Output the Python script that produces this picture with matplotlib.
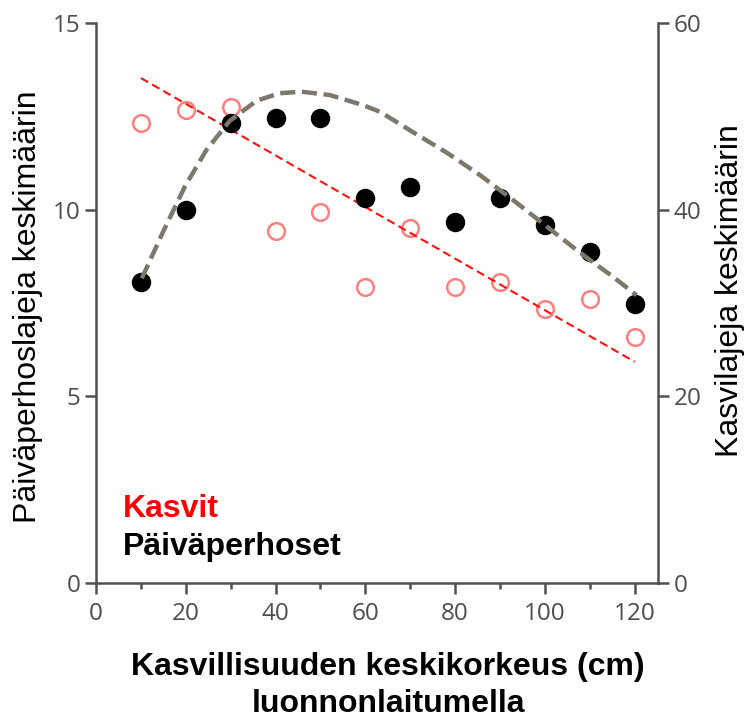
import matplotlib
matplotlib.use("Agg")
import matplotlib.pyplot as plt
from matplotlib.ticker import MultipleLocator

# kasvillisuuden keskikorkeus (cm)
heights = [10, 20, 30, 40, 50, 60, 70, 80, 90, 100, 110, 120]
# päiväperhoslajeja keskimäärin (vasen akseli)
butterflies = [8.06, 9.99, 12.32, 12.45, 12.45, 10.3, 10.6, 9.67, 10.3, 9.6, 8.87, 7.47]
# kasvilajeja keskimäärin (oikea akseli)
plants = [49.3, 50.7, 51.0, 37.7, 39.8, 31.7, 38.0, 31.7, 32.3, 29.4, 30.4, 26.4]

# perhosten trendikäyrä (luettu kuvasta)
curve_x = [10.2, 15, 19.8, 24.6, 29.8, 35.8, 41, 45.8, 52.1, 59.5, 63.3,
           70.7, 78.1, 85.5, 92.9, 100.4, 107.8, 115.2, 120.4]
curve_y = [8.16, 9.42, 10.62, 11.6, 12.38, 12.92, 13.12, 13.16, 13.07, 12.8, 12.62,
           12.07, 11.53, 10.93, 10.26, 9.55, 8.85, 8.2, 7.71]

# kasvien trendiviivan päätepisteet
plant_trend_x = [10, 120]
plant_trend_y = [54.1, 23.7]

tick_color = "#4d4d4d"
spine_color = "#505050"
label_font = "Liberation Sans"

fig = plt.figure(figsize=(7.44, 7.16), dpi=100)
ax = fig.add_axes([96 / 744, 1 - 583 / 716, (658 - 96) / 744, (583 - 23) / 716])
ax2 = ax.twinx()

ax.plot(heights, butterflies, "o", color="black", ms=13, zorder=3)
ax.plot(curve_x, curve_y, color="#7d776c", lw=3.2, dashes=(3.4, 1.5),
        solid_joinstyle="round", zorder=4)

ax2.plot(heights, plants, "o", mfc="none", mec="#ff7f7f", mew=1.8, ms=12, zorder=3)
ax2.plot(plant_trend_x, plant_trend_y, color="#ff1010", lw=1.5, dashes=(4, 2.2),
         zorder=4)

ax.set_xlim(0, 125.2)
ax.set_ylim(0, 15)
ax2.set_ylim(0, 60)
ax.set_xticks([0, 20, 40, 60, 80, 100, 120])
ax.xaxis.set_minor_locator(MultipleLocator(10))
ax.set_yticks([0, 5, 10, 15])
ax2.set_yticks([0, 20, 40, 60])

for a in (ax, ax2):
    a.patch.set_visible(False)
    a.spines["top"].set_visible(False)
    for s in a.spines.values():
        s.set_color(spine_color)
        s.set_linewidth(1.8)
    a.tick_params(which="major", length=8, width=1.8, color=spine_color,
                  labelcolor=tick_color, labelsize=17.5, pad=3)
    a.tick_params(which="minor", length=4.5, width=1.8, color=spine_color)
    for lab in a.get_xticklabels() + a.get_yticklabels():
        lab.set_fontfamily("Open Sans")
ax.tick_params(axis="x", pad=6)
ax.spines["right"].set_visible(False)
ax2.spines["left"].set_visible(False)
ax2.spines["bottom"].set_visible(False)
ax.set_zorder(2)

fig.text(28 / 744, 1 - 307 / 716, "Päiväperhoslajeja keskimäärin", rotation=90,
         ha="center", va="center", fontsize=23, family=label_font)
fig.text(730 / 744, 1 - 291 / 716, "Kasvilajeja keskimäärin", rotation=90,
         ha="center", va="center", fontsize=23, family=label_font)
fig.text(388 / 744, 1 - 675 / 716, "Kasvillisuuden keskikorkeus (cm)",
         ha="center", va="baseline", fontsize=23, fontweight="bold", family=label_font)
fig.text(388 / 744, 1 - 712 / 716, "luonnonlaitumella",
         ha="center", va="baseline", fontsize=23, fontweight="bold", family=label_font)

fig.text(123 / 744, 1 - 517 / 716, "Kasvit", color="#ff0000", ha="left",
         va="baseline", fontsize=23, fontweight="bold", family=label_font)
fig.text(123 / 744, 1 - 555 / 716, "Päiväperhoset", color="black", ha="left",
         va="baseline", fontsize=23, fontweight="bold", family=label_font)

fig.savefig("out.png", dpi=100)
